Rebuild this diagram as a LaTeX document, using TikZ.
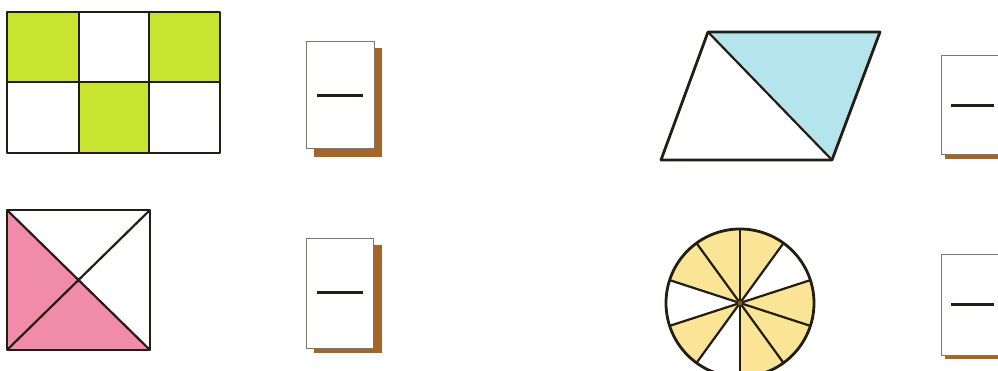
\documentclass[tikz,border=0pt]{standalone}
\usetikzlibrary{calc}
\definecolor{gr}{RGB}{198,228,48}
\definecolor{pk}{RGB}{240,140,170}
\definecolor{bl}{RGB}{180,228,236}
\definecolor{yl}{RGB}{250,228,150}
\definecolor{br}{RGB}{165,100,40}
\definecolor{ink}{RGB}{35,30,20}
\definecolor{cardline}{RGB}{120,120,110}
\tikzset{
  outl/.style={draw=ink, line width=2.8pt, line join=round},
  thin/.style={draw=ink, line width=2.2pt},
  card/.style={draw=cardline, line width=1pt, fill=white},
  shadow/.style={fill=br, draw=none},
  bar/.style={draw=ink, line width=3pt},
}
\begin{document}
\begin{tikzpicture}[x=1pt,y=-1pt]
\useasboundingbox (0,0) rectangle (998,371);
\clip (0,0) rectangle (998,371);
% --- grid rectangle ---
\fill[gr] (7,12) rectangle (79,82);
\fill[gr] (149,12) rectangle (220,82);
\fill[gr] (79,82) rectangle (149,153);
\draw[thin] (79,12) -- (79,153) (149,12) -- (149,153) (7,82) -- (220,82);
\draw[outl] (7,12) rectangle (220,153);
% card 1
\fill[shadow] (374,48) rectangle (382,157);
\fill[shadow] (314,149) rectangle (382,157);
\draw[card] (306,42) rectangle (374,149);
\draw[bar] (317,96) -- (363,96);
% --- square with diagonals ---
\coordinate (sTL) at (7,210); \coordinate (sTR) at (150,210);
\coordinate (sBL) at (7,350); \coordinate (sBR) at (150,350);
\fill[pk] (sTL) -- (sBL) -- (sBR) -- cycle;
\draw[thin] (sTL) -- (sBR) (sBL) -- (sTR);
\draw[outl] (sTL) rectangle (sBR);
% card 2
\fill[shadow] (373,245) rectangle (382,353);
\fill[shadow] (314,348) rectangle (382,353);
\draw[card] (306,239) rectangle (373,348);
\draw[bar] (317,292) -- (363,292);
% --- parallelogram ---
\coordinate (pTL) at (708,32); \coordinate (pTR) at (880,32);
\coordinate (pBL) at (661,160); \coordinate (pBR) at (832,160);
\fill[bl] (pTL) -- (pTR) -- (pBR) -- cycle;
\draw[thin] (pTL) -- (pBR);
\draw[outl] (pTL) -- (pTR) -- (pBR) -- (pBL) -- cycle;
% card 3
\fill[shadow] (945,155) rectangle (1000,159);
\draw[card] (941,56) rectangle (1005,155);
\draw[bar] (951,106) -- (994,106);
% --- circle with 10 sectors (y axis points down: angles are mirrored) ---
\coordinate (c) at (740,303);
\foreach \a in {-90,-18,18,54,126,-162,-126} {
  \fill[yl] (c) -- ++(\a:74) arc[start angle=\a, delta angle=36, radius=74] -- cycle;
}
\foreach \a in {90,54,18,-18,-54} {
  \draw[thin] ($(c)+(\a:74)$) -- ($(c)+(\a+180:74)$);
}
\fill[br!80!black] (c) circle (2.5);
\draw[outl] (c) circle (74);
% card 4
\fill[shadow] (945,355) rectangle (1000,359);
\draw[card] (941,255) rectangle (1005,355);
\draw[bar] (951,304) -- (994,304);
\end{tikzpicture}
\end{document}
